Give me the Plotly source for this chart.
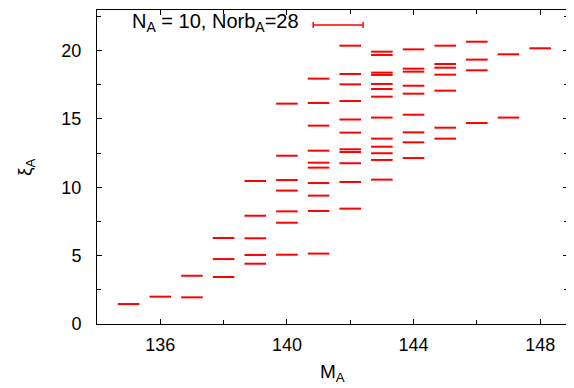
import plotly.graph_objects as go

# Data: mass number M_A and the xi_A levels found at each M_A
masses = [135, 136, 137, 138, 139, 140, 141, 142, 143, 144, 145, 146, 147, 148]
xi_levels = [
    [1.46],
    [2.0],
    [3.53, 1.95],
    [6.29, 4.75, 3.44],
    [10.46, 7.92, 6.27, 5.05, 4.41],
    [16.12, 12.31, 10.53, 9.76, 8.24, 7.41, 5.07],
    [17.95, 16.17, 14.51, 12.68, 11.80, 11.44, 10.31, 9.39, 8.27, 5.15],
    [20.36, 18.29, 17.53, 16.31, 14.96, 14.0, 12.78, 12.58, 11.76, 10.39, 8.44],
    [19.92, 19.68, 18.39, 18.22, 17.56, 17.19, 16.63, 15.10, 13.56, 12.97, 12.49, 12.0, 10.56],
    [20.09, 18.68, 18.46, 17.43, 16.85, 15.31, 14.02, 13.29, 12.14],
    [20.36, 19.02, 18.75, 18.24, 17.07, 14.36, 13.56],
    [20.65, 19.34, 18.56, 14.70],
    [19.73, 15.10],
    [20.17],
]
x_ticks = [136, 140, 144, 148]
y_ticks = [0, 5, 10, 15, 20]
legend_label = "N<sub>A</sub> = 10, Norb<sub>A</sub>=28"

xs, ys = [], []
for m, levels in zip(masses, xi_levels):
    for v in levels:
        xs.append(m)
        ys.append(v)

RED = "#ff0000"
FONT = "Liberation Sans, Arial, Helvetica, sans-serif"

fig = go.Figure()
fig.add_trace(go.Scatter(
    x=xs, y=ys, mode="markers",
    marker=dict(symbol="line-ew", size=15.4, color=RED,
                line=dict(color=RED, width=2)),
    showlegend=False, hoverinfo="x+y",
))

axis_common = dict(
    showline=True, mirror="allticks", linecolor="black", linewidth=1,
    ticks="inside", ticklen=5, tickwidth=1, tickcolor="black",
    showgrid=False, zeroline=False, automargin=False,
    tickfont=dict(family=FONT, size=18, color="black"),
)

fig.update_xaxes(
    range=[134, 148.88], tickvals=x_ticks,
    minor=dict(dtick=2, tick0=134, ticks="inside", ticklen=4, tickcolor="black"),
    ticklabelstandoff=4,
    **axis_common,
)
fig.update_yaxes(
    range=[0, 22.97], tickvals=y_ticks,
    minor=dict(dtick=2.5, tick0=0, ticks="inside", ticklen=4, tickcolor="black"),
    ticklabelstandoff=11,
    **axis_common,
)

# axis titles
fig.add_annotation(
    x=0.5, y=0, xref="paper", yref="paper", xanchor="center", yanchor="middle",
    yshift=-49, text="M<sub>A</sub>", showarrow=False,
    font=dict(family=FONT, size=19, color="black"),
)
fig.add_annotation(
    x=0, y=0.5, xref="paper", yref="paper", xanchor="center", yanchor="middle",
    xshift=-71, textangle=-90, text="ξ<sub>A</sub>", showarrow=False,
    font=dict(family=FONT, size=19, color="black"),
)

# legend key (text + line with end caps)
fig.add_annotation(
    x=0.0743, y=1, xref="paper", yref="paper", xanchor="left", yanchor="middle",
    yshift=-12, xshift=-2, text=legend_label, showarrow=False,
    font=dict(family=FONT, size=20, color="black"),
)
lx0, lx1, ly = 0.459, 0.565, 0.952
fig.add_shape(type="line", xref="paper", yref="paper", x0=lx0, x1=lx1, y0=ly, y1=ly,
              line=dict(color=RED, width=1.5))
for cx in (lx0, lx1):
    fig.add_shape(type="line", xref="paper", yref="paper", ysizemode="pixel", yanchor=ly,
                  x0=cx, x1=cx, y0=-3, y1=3, line=dict(color=RED, width=1.5))

# the page body has an 8px default margin, so the figure is drawn 8px in
fig.update_layout(
    width=566, height=380,
    margin=dict(l=89, r=6, t=2, b=64),
    paper_bgcolor="white", plot_bgcolor="white",
    font=dict(family=FONT, color="black"),
)

fig.write_html("out.html")
